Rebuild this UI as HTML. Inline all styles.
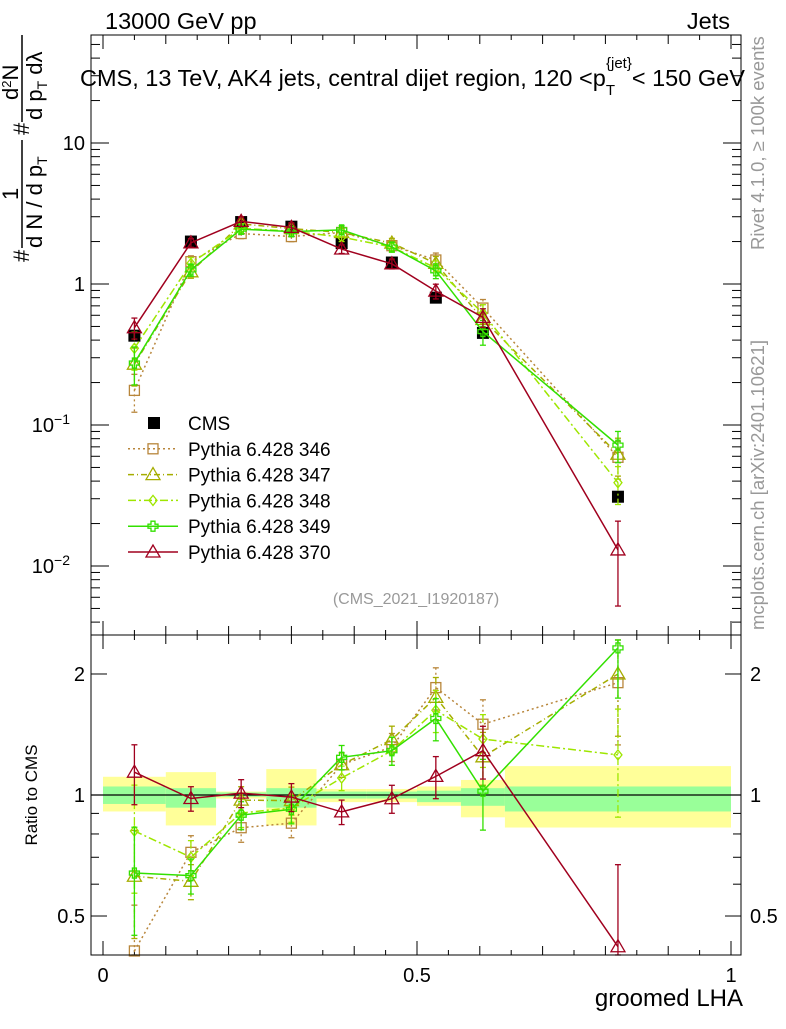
<!DOCTYPE html>
<html><head><meta charset="utf-8"><style>
body{margin:0;background:#fff;}
svg{font-family:"Liberation Sans",sans-serif;}
</style></head><body>
<svg id="c" width="786" height="1024" viewBox="0 0 786 1024">
<rect width="786" height="1024" fill="#fff"/>
<g id="bands"></g>
<g id="grid"></g>
<g id="series"></g>
<rect x="91" y="35" width="650" height="600" fill="none" stroke="#000" stroke-width="1"/>
<rect x="91" y="635" width="650" height="320" fill="none" stroke="#000" stroke-width="1"/>
<text x="105" y="29" font-size="23.5">13000 GeV pp</text>
<text x="730" y="29" font-size="23.5" text-anchor="end">Jets</text>
<text x="80" y="86" font-size="23.5">CMS, 13 TeV, AK4 jets, central dijet region, 120 &lt;p<tspan font-size="15" dy="9">T</tspan><tspan font-size="15" dy="-27" dx="-9">{jet}</tspan><tspan dy="18">&lt; 150 GeV</tspan></text>
<g transform="rotate(-90)" font-size="22">
<text x="-262" y="29">#</text>
<line x1="-248" x2="-140" y1="22" y2="22" stroke="#000" stroke-width="1.5"/>
<text x="-200" y="18">1</text>
<text x="-248" y="42">d N / d p<tspan font-size="14" dy="5">T</tspan></text>
<text x="-135" y="29">#</text>
<line x1="-122" x2="-35" y1="22" y2="22" stroke="#000" stroke-width="1.5"/>
<text x="-100" y="18">d<tspan font-size="13" dy="-7">2</tspan><tspan dy="7">N</tspan></text>
<text x="-120" y="42">d p<tspan font-size="14" dy="5">T</tspan><tspan dy="-5"> dλ</tspan></text>
</g>
<text x="0" y="0" font-size="18.5" fill="#999" transform="translate(764,250) rotate(-90)">Rivet 4.1.0, ≥ 100k events</text>
<text x="0" y="0" font-size="18.5" fill="#999" transform="translate(764,630) rotate(-90)">mcplots.cern.ch [arXiv:2401.10621]</text>
<text x="416" y="604" font-size="16" fill="#999" text-anchor="middle">(CMS_2021_I1920187)</text>
<text x="0" y="0" font-size="17" transform="translate(37,795) rotate(-90)" text-anchor="middle">Ratio to CMS</text>
<text x="743" y="1006" font-size="24" text-anchor="end">groomed LHA</text>
<g id="legend"></g>
</svg>
<script>
const binEdges=[0,0.1,0.18,0.26,0.34,0.42,0.5,0.57,0.64,1.0];
const binCenters=[0.05,0.14,0.22,0.3,0.38,0.46,0.53,0.605,0.82];
const cmsValues=[0.43,2.0,2.75,2.55,1.95,1.42,0.80,0.45,0.031];
const bandGreenUp=[1.05,1.04,1.015,1.04,1.02,1.02,1.025,1.04,1.05];
const bandGreenDn=[0.95,0.93,0.99,0.93,0.98,0.98,0.96,0.94,0.91];
const bandYellowUp=[1.11,1.14,1.02,1.16,1.035,1.035,1.05,1.09,1.18];
const bandYellowDn=[0.91,0.84,0.98,0.84,0.96,0.96,0.94,0.88,0.83];
const mc346=[0.176,1.44,2.28,2.17,2.32,1.87,1.48,0.675,0.059];
const mc347=[0.27,1.22,2.67,2.47,2.32,1.95,1.40,0.56,0.062];
const mc348=[0.35,1.40,2.48,2.37,2.15,1.83,1.30,0.62,0.039];
const mc349=[0.275,1.26,2.45,2.35,2.42,1.83,1.24,0.46,0.072];
const mc370=[0.49,1.96,2.78,2.52,1.77,1.39,0.89,0.58,0.013];
const relErr346=[0.3,0.1,0.08,0.08,0.07,0.08,0.12,0.15,0.3];
const relErr347=[0.3,0.1,0.08,0.08,0.07,0.08,0.12,0.15,0.3];
const relErr348=[0.3,0.1,0.08,0.08,0.07,0.08,0.12,0.15,0.3];
const relErr349=[0.3,0.1,0.08,0.08,0.07,0.08,0.12,0.2,0.25];
const relErr370=[0.17,0.07,0.08,0.08,0.07,0.08,0.12,0.15,0.6];
const legendLabels=["CMS","Pythia 6.428 346","Pythia 6.428 347","Pythia 6.428 348","Pythia 6.428 349","Pythia 6.428 370"];

const NS="http://www.w3.org/2000/svg";
const X=v=>103+628*v;
const Y=v=>284-141*Math.log10(v);
const R=r=>795-402*Math.log10(r);
function mk(tag,attrs,parent){const e=document.createElementNS(NS,tag);for(const k in attrs)e.setAttribute(k,attrs[k]);parent.appendChild(e);return e;}
const gB=document.getElementById('bands'),gG=document.getElementById('grid'),gS=document.getElementById('series'),gL=document.getElementById('legend');

for(let i=0;i<binCenters.length;i++){
 const x0=X(binEdges[i]),x1=X(binEdges[i+1]);
 let y=mk('rect',{x:x0,y:R(bandYellowUp[i]),width:x1-x0,height:R(bandYellowDn[i])-R(bandYellowUp[i]),fill:'#ffff99'},gB);
 
 
 let g=mk('rect',{x:x0,y:R(bandGreenUp[i]),width:x1-x0,height:R(bandGreenDn[i])-R(bandGreenUp[i]),fill:'#99ff99'},gB);
 
 
}
mk('line',{x1:91,x2:741,y1:R(1),y2:R(1),stroke:'#000','stroke-width':1.2},gB);

function tick(x1,y1,x2,y2){mk('line',{x1,y1,x2,y2,stroke:'#000','stroke-width':1},gG);}
function label(x,y,t,anchor,fs){const e=mk('text',{x,y,'text-anchor':anchor,'font-size':fs||20},gG);e.textContent=t;return e;}
for(let d=-3;d<=1;d++){for(let m=1;m<=9;m++){const v=m*Math.pow(10,d);const y=Y(v);if(y<35||y>635)continue;const L=m==1?18:9;tick(91,y,91+L,y);tick(741,y,741-L,y);}}
[[10,'10'],[1,'1']].forEach(a=>{label(85,Y(a[0])+7,a[1],'end');});
[[0.1,'−1'],[0.01,'−2']].forEach(a=>{const t=label(70,Y(a[0])+7,'10','end');const s=mk('tspan',{'font-size':14,dy:-8},t);s.textContent=a[1];});
for(let v=0;v<=1.0001;v+=0.05){const x=X(v);const maj=Math.abs(v*2-Math.round(v*2))<1e-6;const L=maj?14:(Math.abs(v*10-Math.round(v*10))<1e-6?9:5);
 tick(x,635,x,635-L);tick(x,35,x,35+L);tick(x,955,x,955-L);tick(x,635,x,635+L);}
label(X(0),982,'0','middle');label(X(0.5),982,'0.5','middle');label(X(1),982,'1','middle');
[0.5,0.6,0.7,0.8,0.9,1,2].forEach(v=>{const y=R(v);const L=(v==0.5||v==1||v==2)?16:8;tick(91,y,91+L,y);tick(741,y,741-L,y);});
[[2,'2'],[1,'1'],[0.5,'0.5']].forEach(a=>{label(85,R(a[0])+7,a[1],'end');label(750,R(a[0])+7,a[1],'start');});

function marker(kind,x,y,col,parent){
 const s=6;
 if(kind=='fsq')return mk('rect',{x:x-s,y:y-s,width:2*s,height:2*s,fill:'#000'},parent);
 if(kind=='sq')return mk('rect',{x:x-5,y:y-5,width:10,height:10,fill:'none',stroke:col,'stroke-width':1.3},parent);
 if(kind=='tri')return mk('polygon',{points:`${x},${y-7} ${x-7},${y+5} ${x+7},${y+5}`,fill:'none',stroke:col,'stroke-width':1.3},parent);
 if(kind=='dia')return mk('polygon',{points:`${x},${y-5} ${x-4},${y} ${x},${y+5} ${x+4},${y}`,fill:'none',stroke:col,'stroke-width':1.3},parent);
 return mk('path',{d:`M${x-2} ${y-5}h4v3h3v4h-3v3h-4v-3h-3v-4h3z`,fill:'none',stroke:col,'stroke-width':1.3},parent);
}
const series=[
 {name:'pythia-346',vals:mc346,err:relErr346,col:'#b8863b',dash:'2,3',kind:'sq'},
 {name:'pythia-347',vals:mc347,err:relErr347,col:'#a5ad00',dash:'6,3,1,3',kind:'tri'},
 {name:'pythia-348',vals:mc348,err:relErr348,col:'#9ee600',dash:'8,3,2,3',kind:'dia'},
 {name:'pythia-349',vals:mc349,err:relErr349,col:'#33e000',dash:'',kind:'cross'},
 {name:'pythia-370',vals:mc370,err:relErr370,col:'#a0001e',dash:'',kind:'tri'}
];
cmsValues.forEach((v,i)=>{const m=marker('fsq',X(binCenters[i]),Y(v),'#000',gS);
 
 });
series.forEach(s=>{
 const g=mk('g',{},gS);
 
 
 const pts=s.vals.map((v,i)=>X(binCenters[i])+','+Y(v)).join(' ');
 mk('polyline',{points:pts,fill:'none',stroke:s.col,'stroke-width':1.5,'stroke-dasharray':s.dash},g);
 const rp=s.vals.map((v,i)=>X(binCenters[i])+','+R(v/cmsValues[i])).join(' ');
 mk('polyline',{points:rp,fill:'none',stroke:s.col,'stroke-width':1.5,'stroke-dasharray':s.dash},g);
 s.vals.forEach((v,i)=>{
  const x=X(binCenters[i]);const e=s.err[i];
  const hi=v*(1+e),lo=v*Math.max(0.05,1-e);
  mk('line',{x1:x,x2:x,y1:Y(hi),y2:Y(lo),stroke:s.col,'stroke-width':1.3,'stroke-dasharray':s.dash},g);
  mk('line',{x1:x-3,x2:x+3,y1:Y(hi),y2:Y(hi),stroke:s.col,'stroke-width':1.3},g);
  mk('line',{x1:x-3,x2:x+3,y1:Y(lo),y2:Y(lo),stroke:s.col,'stroke-width':1.3},g);
  const m=marker(s.kind,x,Y(v),s.col,g);
  
  
  const r=v/cmsValues[i];const rh=Math.min(2.43,r*(1+e)),rl=Math.max(0.4,r*Math.max(0.05,1-e));
  mk('line',{x1:x,x2:x,y1:R(rh),y2:R(rl),stroke:s.col,'stroke-width':1.3,'stroke-dasharray':s.dash},g);
  mk('line',{x1:x-3,x2:x+3,y1:R(rh),y2:R(rh),stroke:s.col,'stroke-width':1.3},g);
  mk('line',{x1:x-3,x2:x+3,y1:R(rl),y2:R(rl),stroke:s.col,'stroke-width':1.3},g);
  const mr=marker(s.kind,x,R(r),s.col,g);
  
  
 });
});
legendLabels.forEach((t,i)=>{
 const y=423+i*25.8;
 const g=mk('g',{},gL);
 
 
 if(i==0){marker('fsq',154,y,'#000',g);}
 else{const s=series[i-1];
  mk('line',{x1:128,x2:178,y1:y,y2:y,stroke:s.col,'stroke-width':1.5,'stroke-dasharray':s.dash},g);
  marker(s.kind,153,y,s.col,g);}
 const tx=mk('text',{x:188,y:y+7,'font-size':19},g);tx.textContent=t;
});
</script>
</body></html>
